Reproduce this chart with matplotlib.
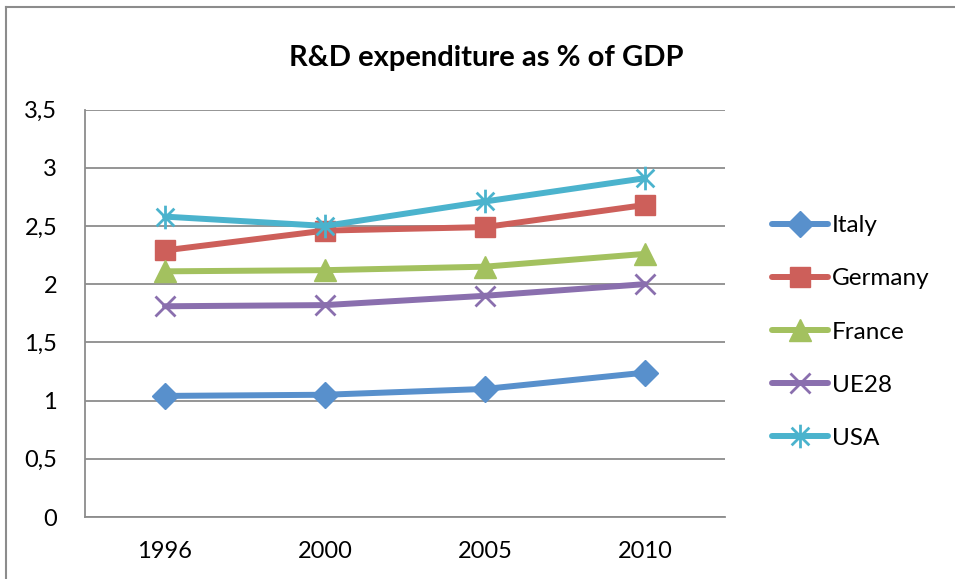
import matplotlib
matplotlib.use("Agg")
import matplotlib.pyplot as plt
from matplotlib.path import Path
from matplotlib.lines import Line2D
from matplotlib.ticker import FuncFormatter, MultipleLocator

years = ["1996", "2000", "2005", "2010"]
italy = [1.04, 1.05, 1.10, 1.24]
germany = [2.29, 2.46, 2.49, 2.68]
france = [2.11, 2.12, 2.15, 2.26]
ue28 = [1.81, 1.82, 1.90, 2.00]
usa = [2.58, 2.50, 2.71, 2.91]
series_names = ["Italy", "Germany", "France", "UE28", "USA"]

plt.rcParams['font.family'] = ['Lato', 'DejaVu Sans']

star = Path([(0, -1), (0, 1), (-0.75, -0.75), (0.75, 0.75), (-0.75, 0.75), (0.75, -0.75)],
            [Path.MOVETO, Path.LINETO, Path.MOVETO, Path.LINETO, Path.MOVETO, Path.LINETO])

styles = [
    dict(color="#5890CC", marker="D", ms=13),
    dict(color="#CD5F5A", marker="s", ms=15),
    dict(color="#A3C15F", marker="^", ms=16),
    dict(color="#8A6FAE", marker="x", ms=14, mew=2),
    dict(color="#4BB3CD", marker=star, ms=17, mew=2),
]

fig = plt.figure(figsize=(9.55, 5.79), dpi=100)
ax = fig.add_axes([85/955, 1-517/579, (725-85)/955, (517-109.5)/579])

x = list(range(len(years)))
for name, vals, st in zip(series_names, [italy, germany, france, ue28, usa], styles):
    ax.plot(x, vals, lw=4.3, label=name, solid_capstyle='round', **st)

ax.set_xlim(-0.5, 3.5)
ax.set_ylim(0, 3.5)
ax.set_xticks(x)
ax.set_xticklabels(years)
ax.yaxis.set_major_locator(MultipleLocator(0.5))
ax.yaxis.set_major_formatter(FuncFormatter(lambda v, p: ("%g" % v).replace(".", ",")))
ax.grid(axis='y', color="#8c8c8c", lw=1.3)
ax.set_axisbelow(True)
for s in ["top", "right"]:
    ax.spines[s].set_visible(False)
for s in ["left", "bottom"]:
    ax.spines[s].set_color("#8c8c8c")
    ax.spines[s].set_linewidth(1.3)
ax.tick_params(axis='both', length=0, labelsize=17, colors="black")
ax.tick_params(axis='y', pad=20)
ax.tick_params(axis='x', pad=17)

fig.text(486/955, 1-58/579, "R&D expenditure as % of GDP", ha="center", va="center",
         fontsize=21, fontweight="bold")

fig.legend(loc="center left", bbox_to_anchor=(772/955, 1-332/579), frameon=False,
           fontsize=17.5, handlelength=2.3, handletextpad=0.15, labelspacing=1.32,
           borderpad=0, borderaxespad=0)

fig.add_artist(Line2D([6/955, 6/955], [0, 1-7/579], transform=fig.transFigure, color="#8c8c8c", lw=1.5))
fig.add_artist(Line2D([6/955, 1], [1-7/579, 1-7/579], transform=fig.transFigure, color="#8c8c8c", lw=1.5))

fig.savefig("out.png", dpi=100)
